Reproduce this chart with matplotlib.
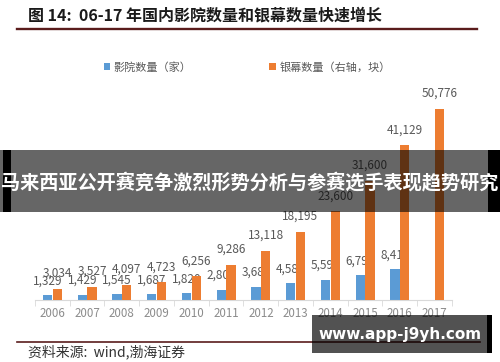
import matplotlib
matplotlib.use("Agg")
import matplotlib.pyplot as plt
import numpy as np
from matplotlib.patches import Rectangle
from matplotlib.lines import Line2D

plt.rcParams['font.family'] = ['Noto Sans CJK SC', 'DejaVu Sans']

# data
years = ['2006', '2007', '2008', '2009', '2010', '2011',
         '2012', '2013', '2014', '2015', '2016', '2017']
cinemas = [1329, 1429, 1545, 1687, 1820, 2803, 3680, 4583, 5598, 6798, 8410]
screens = [3034, 3527, 4097, 4723, 6256, 9286, 13118, 18195, 23600, 31600, 41129, 50776]

W, H = 500, 362
BLUE = '#5b9bd5'
ORANGE = '#ed7d31'
LABEL = '#595959'
RULE = '#5a1c1c'


def fx(px):
    return px / W


def fy(py):
    return 1 - py / H


fig = plt.figure(figsize=(W / 100, H / 100), dpi=100)
fig.patch.set_facecolor('white')

ax = fig.add_axes([fx(35), fy(300), (452 - 35) / W, (300 - 95) / H])
ax2 = ax.twinx()

x = np.arange(len(years))
bw = 0.26
off = 0.14

b1 = ax.bar(x[:len(cinemas)] - off, cinemas, width=bw, color=BLUE, label='影院数量（家）')
b2 = ax2.bar(x + off, screens, width=bw, color=ORANGE, label='银幕数量（右轴，块）')

ax.set_ylim(0, 56000)
ax2.set_ylim(0, 54500)
ax.set_xlim(-0.5, len(years) - 0.5)

for a in (ax, ax2):
    for s in ('top', 'left', 'right'):
        a.spines[s].set_visible(False)
    a.set_yticks([])
ax2.spines['bottom'].set_visible(False)
ax.spines['bottom'].set_color('#d9d9d9')

ax.set_xticks(x)
ax.set_xticklabels(years, fontsize=8.3, color='#8c8c8c')
ax.tick_params(axis='x', which='major', length=0, pad=5)
ax.set_xticks(np.arange(-0.5, len(years)), minor=True)
ax.tick_params(axis='x', which='minor', length=4, color='#d9d9d9')

for xi, v in zip(x, cinemas):
    ax.annotate(f'{v:,}', (xi - off, v), xytext=(0, 5.5), textcoords='offset points',
                ha='center', va='bottom', fontsize=8.5, color=LABEL)
for xi, v in zip(x, screens):
    ax2.annotate(f'{v:,}', (xi + off, v), xytext=(0, 6.5), textcoords='offset points',
                 ha='center', va='bottom', fontsize=8.5, color=LABEL)

leg = fig.legend(handles=[b1, b2], loc='center', bbox_to_anchor=(fx(247), fy(67)),
                 ncol=2, frameon=False, fontsize=8, handlelength=0.6, handleheight=0.6,
                 handletextpad=0.3, columnspacing=7.0)
for t in leg.get_texts():
    t.set_color(LABEL)

# title and rules
fig.text(fx(28), fy(15), '图 14:  06-17 年国内影院数量和银幕数量快速增长',
         fontsize=11.5, fontweight='bold', color='#1a1a1a', ha='left', va='center')
fig.add_artist(Line2D([fx(17), fx(477)], [fy(29), fy(29)], color=RULE, lw=1.7))
fig.add_artist(Line2D([fx(17), fx(480)], [fy(342), fy(342)], color=RULE, lw=1.2))
fig.text(fx(28), fy(352), '资料来源:  wind,渤海证券', fontsize=10, color='#333333',
         ha='left', va='center')

# overlay banner
fig.add_artist(Rectangle((0, fy(212)), 1, 62 / H, transform=fig.transFigure,
                         facecolor='black', alpha=0.6, edgecolor='none', zorder=10))
fig.add_artist(Rectangle((fx(3), fy(212)), 8 / W, 62 / H, transform=fig.transFigure,
                         facecolor='black', edgecolor='none', zorder=11))
fig.add_artist(Rectangle((fx(488), fy(212)), 12 / W, 62 / H, transform=fig.transFigure,
                         facecolor='black', edgecolor='none', zorder=11))
fig.text(0.5, fy(183), '马来西亚公开赛竞争激烈形势分析与参赛选手表现趋势研究',
         fontsize=13.8, fontweight='bold', color='white', ha='center', va='center', zorder=12)

# watermark box
fig.add_artist(Rectangle((fx(312), fy(353)), (488 - 312) / W, 38 / H, transform=fig.transFigure,
                         facecolor='black', alpha=0.68, edgecolor='none', zorder=10))
fig.add_artist(Rectangle((fx(487), fy(353)), 5 / W, 38 / H, transform=fig.transFigure,
                         facecolor='black', edgecolor='none', zorder=11))
fig.text(fx(400), fy(334), 'www.app-j9yh.com', fontsize=11, fontweight='bold',
         color='white', ha='center', va='center', family='DejaVu Sans', zorder=12)

fig.savefig('out.png', dpi=100)
